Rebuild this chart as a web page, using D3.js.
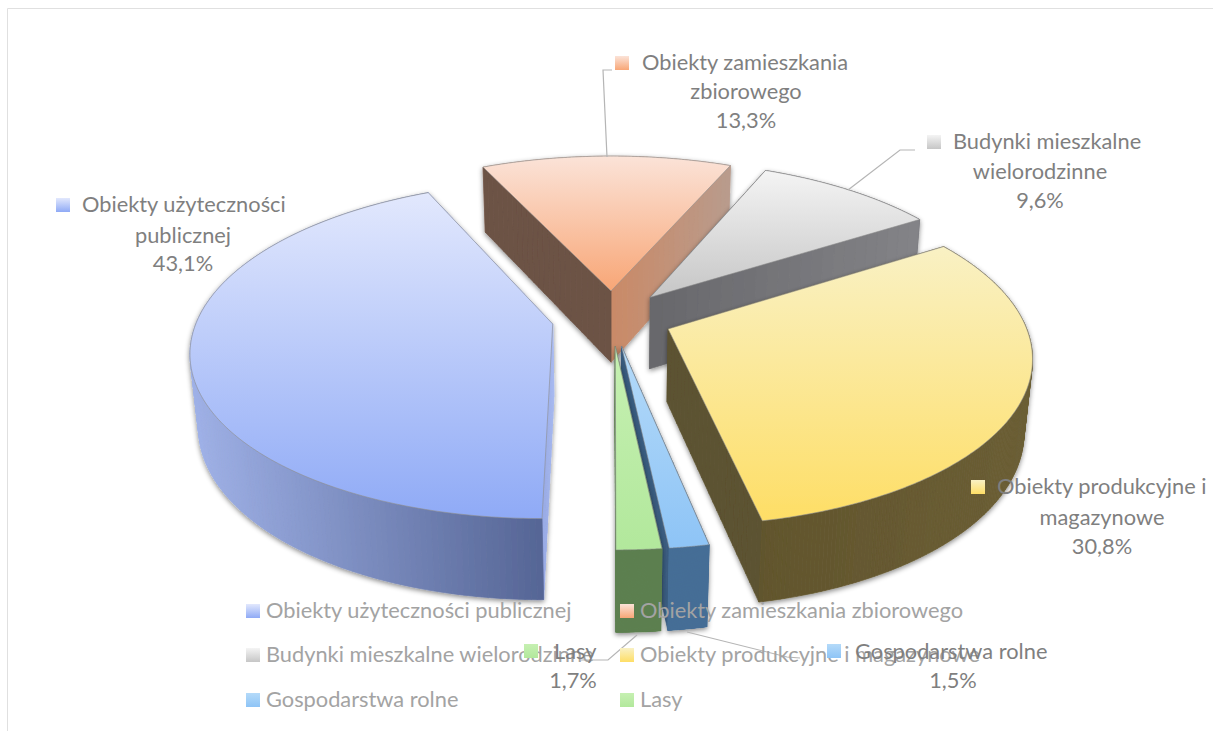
<!DOCTYPE html>
<html>
<head>
<meta charset="utf-8">
<script src="https://cdn.jsdelivr.net/npm/d3@7"></script>
<style>
  html, body { margin: 0; padding: 0; background: #fff; }
  text { font-family: Lato, "Open Sans", sans-serif; }
</style>
</head>
<body>
<div id="chart"></div>
<script>
// Data
const categories = [
  "Obiekty użyteczności publicznej",
  "Obiekty zamieszkania zbiorowego",
  "Budynki mieszkalne wielorodzinne",
  "Obiekty produkcyjne i magazynowe",
  "Gospodarstwa rolne",
  "Lasy"
];
const values = [43.1, 13.3, 9.6, 30.8, 1.5, 1.7];

// Slice colours: top face gradient, then the two cut walls and the outer wall
const topLight = ["#e2e8fd", "#fbe3d8", "#f4f4f4", "#f9f1c4", "#b4daf9", "#c6f0b2"];
const topDark = ["#8faaf6", "#f8a676", "#c6c6c6", "#fede66", "#8ec4f6", "#b2e89c"];
const wallStart = [["#a8baf0", "#a8baf0"], ["#6c5245", "#c98a68"], ["#68686c", "#68686c"], ["#5c5230", "#5c5230"], ["#3a5c80", "#3a5c80"], ["#5d8050", "#5d8050"]];
const wallEnd = [["#98aae4", "#98aae4"], ["#6c5245", "#b89c8e"], ["#68686c", "#848488"], ["#5c5230", "#5c5230"], ["#3a5c80", "#3a5c80"], ["#5d8050", "#5d8050"]];
const arcLeft = ["#a0b2e8", "#b89c8e", "#6e6e72", "#5c5028", "#466e96", "#5d8050"];
const arcRight = ["#566696", "#b89c8e", "#6e6e72", "#6b5e35", "#466e96", "#5d8050"];

// Layout of the projected pie
const width = 1213, height = 731;
const cx = 612, cy = 318, rx = 355, ry = 163;
const persp = 0.152, drop = 74, dropPersp = 0.02, explode = 0.17;
const deg = Math.PI / 180;

const svg = d3.select("#chart").append("svg")
  .attr("width", width)
  .attr("height", height);

const defs = svg.append("defs");
const shadow = defs.append("filter").attr("id", "shadow")
  .attr("x", "-10%").attr("y", "-10%").attr("width", "125%").attr("height", "125%");
shadow.append("feDropShadow")
  .attr("dx", 0).attr("dy", 2).attr("stdDeviation", 2.5)
  .attr("flood-color", "#000").attr("flood-opacity", 0.45);

// frame of the chart area
svg.append("path")
  .attr("d", `M7.5,${height} V8.5 H${width}`)
  .attr("fill", "none")
  .attr("stroke", "#e0e0e0");

// X right, Z to the back, h 0 on the top face and 1 on the bottom one
function project(X, Z, h) {
  const w = 1 + persp * Z + dropPersp * h;
  return [cx + rx * X / w, cy - ry * Z / w + drop * h / w];
}

const slices = d3.pie().sort(null).startAngle(180 * deg).endAngle(540 * deg)(values);

const line = d3.line();
const sliceOrder = [1, 2, 3, 0, 4, 5];
const steps = 180;

sliceOrder.forEach(i => {
  const s = slices[i];
  const mid = (s.startAngle + s.endAngle) / 2;
  const ox = explode * Math.sin(mid), oz = explode * Math.cos(mid);
  const rim = a => [ox + Math.sin(a), oz + Math.cos(a)];
  const g = svg.append("g").attr("filter", "url(#shadow)");

  const angleAt = d3.scaleLinear().domain([0, steps]).range([s.startAngle, s.endAngle]);
  const angles = d3.range(0, steps + 1).map(t => angleAt(t));

  // walls split in small quads so shading follows the surface
  const quads = [];
  const addQuad = (p, q, color) => {
    quads.push({ z: (p[1] + q[1]) / 2, p, q, color });
  };
  const xShade = d3.scaleLinear()
    .domain(i === 0 ? [-rx * 1.2, -rx * 0.2] : [0, rx * 1.2])
    .range([arcLeft[i], arcRight[i]])
    .clamp(true);
  d3.pairs(angles).forEach(([a, b]) => {
    const p = rim(a), q = rim(b);
    addQuad(p, q, xShade(project(p[0], p[1], 0)[0] - cx));
  });
  [s.startAngle, s.endAngle].forEach((a, k) => {
    const end = rim(a);
    const px = d3.scaleLinear().domain([0, 24]).range([ox, end[0]]);
    const pz = d3.scaleLinear().domain([0, 24]).range([oz, end[1]]);
    const col = d3.scaleLinear().domain([0, 24]).range([wallStart[i][k], wallEnd[i][k]]);
    d3.range(24).forEach(n => {
      addQuad([px(n), pz(n)], [px(n + 1), pz(n + 1)], col(n));
    });
  });

  quads.sort((a, b) => b.z - a.z).forEach(d => {
    g.append("path")
      .attr("d", line([
        project(d.p[0], d.p[1], 0), project(d.q[0], d.q[1], 0),
        project(d.q[0], d.q[1], 1), project(d.p[0], d.p[1], 1)
      ]) + "Z")
      .attr("fill", d.color)
      .attr("stroke", d.color)
      .attr("stroke-width", 0.7);
  });

  // top face
  const topPts = [[ox, oz]].concat(angles.map(rim)).map(p => project(p[0], p[1], 0));
  const id = "top" + i;
  const ys = topPts.map(p => p[1]);
  const grad = defs.append("linearGradient").attr("id", id)
    .attr("gradientUnits", "userSpaceOnUse")
    .attr("x1", 0).attr("x2", 0)
    .attr("y1", d3.min(ys)).attr("y2", d3.max(ys));
  grad.append("stop").attr("offset", 0).attr("stop-color", topLight[i]);
  grad.append("stop").attr("offset", 1).attr("stop-color", topDark[i]);
  g.append("path")
    .attr("d", line(topPts) + "Z")
    .attr("fill", `url(#${id})`)
    .attr("stroke", "#8c8c8c")
    .attr("stroke-opacity", 0.65)
    .attr("stroke-width", 0.9);
});

// swatch gradients shared by legend and data labels
categories.forEach((c, i) => {
  const grad = defs.append("linearGradient").attr("id", "sw" + i)
    .attr("x1", 0).attr("x2", 0).attr("y1", 0).attr("y2", 1);
  grad.append("stop").attr("offset", 0).attr("stop-color", topLight[i]);
  grad.append("stop").attr("offset", 1).attr("stop-color", topDark[i]);
});

// leader lines
const leaders = [
  [[607, 157], [603, 70], [612, 70]],
  [[848, 190], [900, 150], [915, 150]],
  [[637, 635], [608, 660], [581, 660]],
  [[687, 632], [787, 657], [800, 658]]
];
svg.selectAll(".leader").data(leaders).enter().append("path")
  .attr("class", "leader")
  .attr("d", d => line(d))
  .attr("fill", "none")
  .attr("stroke", "#b5b5b5")
  .attr("stroke-width", 1.2);

// legend
const legendX = [246, 620];
const legendY = [611, 655, 700];
const legend = svg.append("g");
categories.forEach((c, i) => {
  const x = legendX[i % 2], y = legendY[Math.floor(i / 2)];
  legend.append("rect")
    .attr("x", x).attr("y", y - 7)
    .attr("width", 14).attr("height", 14)
    .attr("fill", `url(#sw${i})`);
  legend.append("text")
    .attr("x", x + 20).attr("y", y + 7)
    .attr("font-size", 21.8)
    .attr("fill", "#a3a3a3")
    .text(c);
});

// data labels
const fmt = v => v.toFixed(1).replace(".", ",") + "%";
const labelRows = [
  { i: 0, sw: [56, 198], x: 82, lines: ["Obiekty użyteczności", "publicznej"], ys: [212, 243], cx: 183, py: 271 },
  { i: 1, sw: [615, 56], x: 642, lines: ["Obiekty zamieszkania", "zbiorowego"], ys: [70, 99], cx: 746, py: 128 },
  { i: 2, sw: [927, 135], x: 953, lines: ["Budynki mieszkalne", "wielorodzinne"], ys: [149, 179], cx: 1040, py: 208 },
  { i: 3, sw: [971, 480], x: 997, lines: ["Obiekty produkcyjne i", "magazynowe"], ys: [494, 525], cx: 1102, py: 554 },
  { i: 4, sw: [827, 644], x: 855, lines: ["Gospodarstwa rolne"], ys: [659], cx: 953, py: 688 },
  { i: 5, sw: [524, 644], x: 554, lines: ["Lasy"], ys: [659], cx: 573, py: 688 }
];
const labels = svg.append("g").attr("fill", "#7f7f7f").attr("font-size", 21.8);
labelRows.forEach(d => {
  labels.append("rect")
    .attr("x", d.sw[0]).attr("y", d.sw[1])
    .attr("width", 14).attr("height", 14)
    .attr("fill", `url(#sw${d.i})`);
  d.lines.forEach((t, n) => {
    labels.append("text")
      .attr("x", n === 0 ? d.x : d.cx)
      .attr("y", d.ys[n])
      .attr("text-anchor", n === 0 ? "start" : "middle")
      .text(t);
  });
  labels.append("text")
    .attr("x", d.cx).attr("y", d.py)
    .attr("text-anchor", "middle")
    .text(fmt(values[d.i]));
});
</script>
</body>
</html>
